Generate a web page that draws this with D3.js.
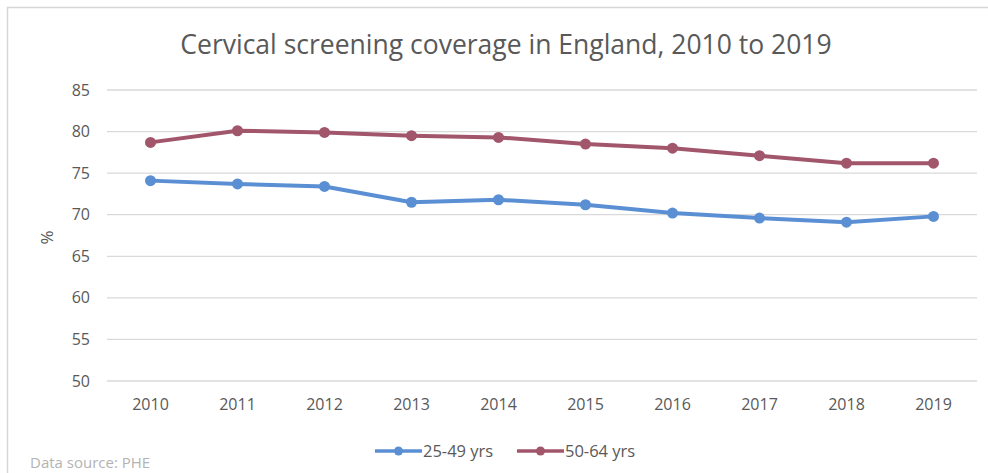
<!DOCTYPE html>
<html>
<head>
<meta charset="utf-8">
<script src="https://cdn.jsdelivr.net/npm/d3@7"></script>
<style>
  html, body { margin: 0; padding: 0; background: #fff; }
  svg { display: block; }
  text { font-family: "Open Sans", sans-serif; }
</style>
</head>
<body>
<svg id="chart" width="988" height="473"></svg>
<script>
// Cervical screening coverage (%) in England by age group
const years = ["2010", "2011", "2012", "2013", "2014", "2015", "2016", "2017", "2018", "2019"];
const age25to49 = [74.1, 73.7, 73.4, 71.5, 71.8, 71.2, 70.2, 69.6, 69.1, 69.8];
const age50to64 = [78.7, 80.1, 79.9, 79.5, 79.3, 78.5, 78.0, 77.1, 76.2, 76.2];
const yTicks = [50, 55, 60, 65, 70, 75, 80, 85];
const seriesNames = ["25-49 yrs", "50-64 yrs"];
const seriesColors = ["#5b8fd3", "#a1566b"];

const series = [
  { name: seriesNames[0], values: age25to49, color: seriesColors[0] },
  { name: seriesNames[1], values: age50to64, color: seriesColors[1] }
];

const FONT = "'Open Sans', sans-serif";
const svg = d3.select("#chart");
const W = 988, H = 473;
const margin = { left: 107, right: 11, top: 90, bottom: 92 };

// Chart frame
svg.append("rect")
  .attr("x", 7.5).attr("y", 7.5)
  .attr("width", W + 20).attr("height", H + 20)
  .attr("fill", "#fff").attr("stroke", "#d6d6d6").attr("stroke-width", 1.5);

const x = d3.scaleBand().domain(years).range([margin.left, W - margin.right]);
const y = d3.scaleLinear().domain([50, 85]).range([H - margin.bottom, margin.top]);

// Horizontal gridlines
svg.append("g")
  .selectAll("line")
  .data(yTicks)
  .join("line")
  .attr("x1", margin.left).attr("x2", W - margin.right)
  .attr("y1", d => y(d)).attr("y2", d => y(d))
  .attr("stroke", "#d9d9d9").attr("stroke-width", 1.3);

// Y axis labels
const yAxis = d3.axisLeft(y).tickValues(yTicks).tickSize(0).tickPadding(17);
const gy = svg.append("g").attr("transform", `translate(${margin.left},0)`).call(yAxis);
gy.select(".domain").remove();
gy.selectAll("text")
  .attr("fill", "#595959")
  .style("font-size", "16px")
  .style("font-family", FONT);

// X axis labels
const xAxis = d3.axisBottom(x).tickSize(0).tickPadding(18);
const gx = svg.append("g").attr("transform", `translate(0,${y(50)})`).call(xAxis);
gx.select(".domain").remove();
gx.selectAll("text")
  .attr("fill", "#595959")
  .style("font-size", "16px")
  .style("font-family", FONT);

// Y axis title
svg.append("text")
  .attr("transform", `translate(53,${(y(50) + y(85)) / 2 + 2}) rotate(-90)`)
  .attr("text-anchor", "middle")
  .attr("fill", "#595959")
  .style("font-size", "17px")
  .text("%");

// Title
svg.append("text")
  .attr("x", 506).attr("y", 54)
  .attr("text-anchor", "middle")
  .attr("fill", "#595959")
  .style("font-size", "26.5px")
  .text("Cervical screening coverage in England, 2010 to 2019");

// Lines and markers
const cx = d => x(d) + x.bandwidth() / 2;
const line = d3.line().x((d, i) => cx(years[i])).y(d => y(d));

series.forEach(s => {
  svg.append("path")
    .datum(s.values)
    .attr("fill", "none")
    .attr("stroke", s.color)
    .attr("stroke-width", 4)
    .attr("stroke-linejoin", "round")
    .attr("d", line);
  svg.append("g")
    .selectAll("circle")
    .data(s.values)
    .join("circle")
    .attr("cx", (d, i) => cx(years[i]))
    .attr("cy", d => y(d))
    .attr("r", 5.5)
    .attr("fill", s.color);
});

// Legend
const legend = svg.append("g").attr("transform", "translate(375,451)");
const legendItems = [
  { offset: 0, s: series[0] },
  { offset: 142, s: series[1] }
];
legendItems.forEach(({ offset, s }) => {
  const g = legend.append("g").attr("transform", `translate(${offset},0)`);
  g.append("line").attr("x1", 0).attr("x2", 47).attr("y1", 0).attr("y2", 0)
    .attr("stroke", s.color).attr("stroke-width", 3.5);
  g.append("circle").attr("cx", 23.5).attr("cy", 0).attr("r", 4.5).attr("fill", s.color);
  g.append("text").attr("x", 48).attr("y", 5.5)
    .attr("fill", "#595959").style("font-size", "16.5px").text(s.name);
});

// Source note
svg.append("text")
  .attr("x", 30).attr("y", 468)
  .attr("fill", "#b3b3b3")
  .style("font-size", "15px")
  .text("Data source: PHE");
</script>
</body>
</html>
